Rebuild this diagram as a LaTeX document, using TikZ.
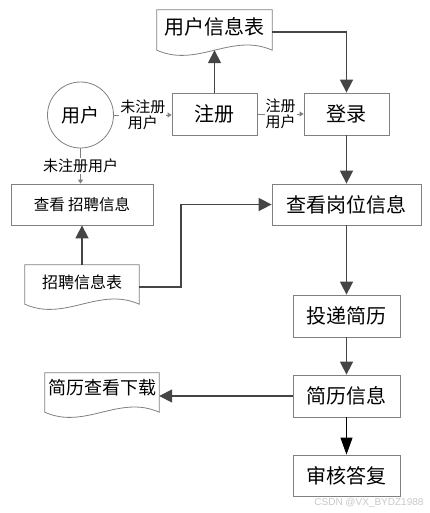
\documentclass[tikz,border=0pt]{standalone}
\usepackage{fontspec}
\setmainfont{Liberation Sans}
\newfontfamily\cjk{Noto Sans CJK SC}
\usetikzlibrary{arrows.meta,calc}
\definecolor{boxgray}{HTML}{808080}
\definecolor{arrgray}{HTML}{454545}
\definecolor{wmgray}{HTML}{C8C8C8}
\newcommand\docshape[2]{\draw[docline] let \p1=(#1.north west), \p2=(#1.south east) in (\p1) -- (\x2,\y1) -- (\x2,\y2-#2pt) .. controls (\x2-0.35*\x2+0.35*\x1,\y2-#2pt+18pt) and (\x1+0.35*\x2-0.35*\x1,\y2-#2pt-18pt) .. (\x1,\y2-#2pt) -- cycle;}
\begin{document}
\begin{tikzpicture}[x=1pt,y=-1pt,
 box/.style={draw=boxgray, line width=0.8pt, inner sep=0pt, font=\cjk\fontsize{20}{22}\selectfont},
 doc/.style={inner sep=0pt},
 docline/.style={draw=boxgray, line width=0.8pt},
 big/.style={draw=arrgray, line width=1.6pt, -{Triangle[length=13pt,width=13pt]}},
 small/.style={draw=boxgray, line width=0.8pt, -{Triangle[length=4pt,width=5pt]}},
 lbl/.style={fill=white, inner sep=1pt, align=center, font=\cjk\fontsize{15}{16}\selectfont, text=black},
]
\useasboundingbox (0,0) rectangle (430,513);
% nodes
\node[doc, minimum width=115pt, minimum height=34pt, font=\cjk\fontsize{20}{22}\selectfont] (utab) at (214.5,27) {用户信息表};
\docshape{utab}{6}
\node[draw=boxgray, line width=0.8pt, circle, minimum size=66pt, inner sep=0pt, font=\cjk\fontsize{19}{20}\selectfont] (user) at (80.5,115) {用户};
\node[box, minimum width=85pt, minimum height=42pt] (reg) at (214.5,114) {注册};
\node[box, minimum width=85pt, minimum height=42pt] (login) at (346.5,114) {登录};
\node[box, minimum width=142pt, minimum height=41pt, font=\cjk\fontsize{15.5}{17}\selectfont] (view1) at (82,204.5) {查看 招聘信息};
\node[box, minimum width=149pt, minimum height=41pt] (view2) at (346.5,204.5) {查看岗位信息};
\node[doc, minimum width=114pt, minimum height=34pt, font=\cjk\fontsize{16}{18}\selectfont] (jtab) at (82,282) {招聘信息表};
\docshape{jtab}{5}
\node[box, minimum width=107pt, minimum height=42pt] (post) at (346.5,316) {投递简历};
\node[box, minimum width=107pt, minimum height=42pt] (resume) at (346.5,396) {简历信息};
\node[doc, minimum width=114pt, minimum height=30pt, font=\cjk\fontsize{18}{20}\selectfont] (dl) at (102,388) {简历查看下载};
\docshape{dl}{9}
\node[box, minimum width=107pt, minimum height=41pt] (audit) at (346.5,475.5) {审核答复};
\node[text=wmgray, font=\fontsize{10}{10}\selectfont, anchor=east] (wm) at (427,503) {CSDN @VX\_BYDZ1988};
% connectors
\draw[small] (user.east) -- node[lbl]{未注册\\用户} (user.east -| reg.west);
\draw[small] (reg) -- node[lbl]{注册\\用户} (login);
\draw[small] (user.south) -- node[lbl]{未注册用户} (user.south |- view1.north);
\draw[big] (reg.north) -- ($(utab.south)+(0,6)$);
\draw[big] ([yshift=-5pt]utab.east) -| (login.north);
\draw[big] (login) -- (view2);
\draw[big] (jtab.north) -- (view1.south);
\draw[big] ([yshift=-5pt]jtab.east) -- ++(42,0) |- (view2.west);
\draw[big] (view2) -- (post);
\draw[big] (post) -- (resume);
\draw[big] (resume.west) -- (resume.west -| dl.east);
\draw[black, line width=1pt, -{Triangle[length=17pt,width=12pt]}] (resume) -- (audit);
\end{tikzpicture}
\end{document}
